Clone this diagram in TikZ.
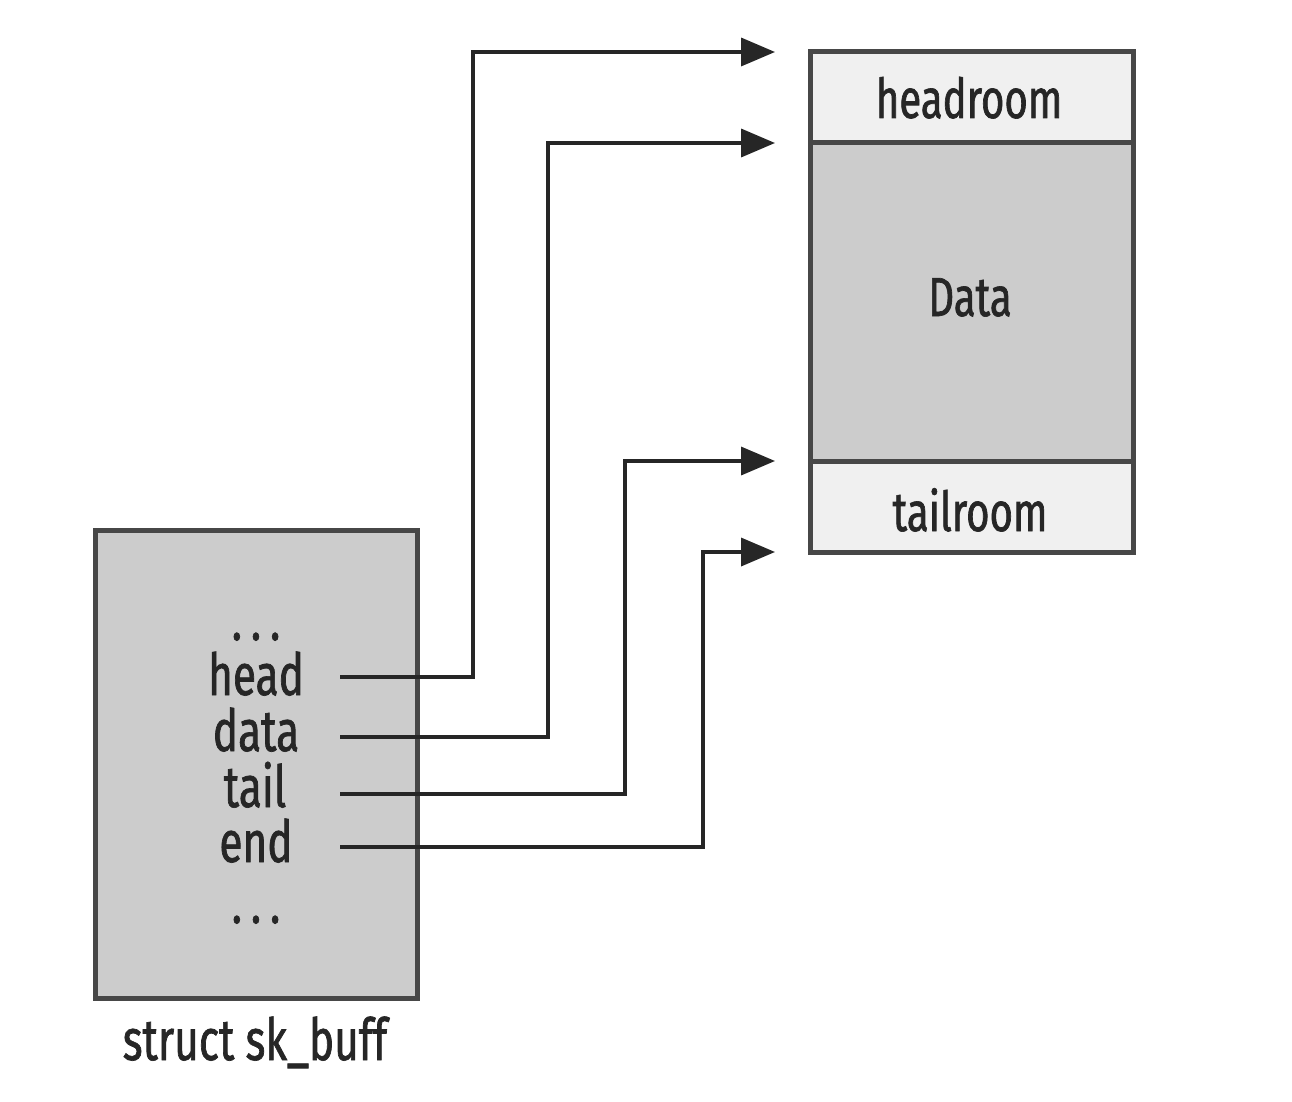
\documentclass[tikz,border=0pt]{standalone}
\usepackage{fontspec}
\setmainfont[FakeStretch=0.73,FakeBold=1.2]{Fira Sans}
\usetikzlibrary{arrows.meta}
\definecolor{boxline}{HTML}{474747}
\definecolor{boxfill}{HTML}{CCCCCC}
\definecolor{roomfill}{HTML}{F0F0F0}
\begin{document}
\begin{tikzpicture}[x=1pt,y=-1pt,
  memblock/.style={draw=boxline,line width=5pt,minimum width=323pt,inner sep=0pt,outer sep=0pt},
  lbl/.style={font=\fontsize{55}{60}\selectfont,text=black!85,anchor=base,inner sep=0pt},
  fld/.style={font=\fontsize{58}{60}\selectfont,text=black!85,anchor=base,inner sep=0pt},
  ptr/.style={line width=3.6pt,draw=black!85,-{Triangle[length=34pt,width=28pt]}}]
\useasboundingbox (0,0) rectangle (1292,1102);
% sk_buff structure
\node[memblock,fill=boxfill,minimum height=468pt,minimum width=322pt,anchor=north west] (skb) at (95,530) {};
\node[fld] (dots1) at (256,640) {.\kern9pt.\kern9pt.};
\node[fld] (fhead) at (256,695) {head};
\node[fld] (fdata) at (256,751) {data};
\node[fld] (ftail) at (255,807) {tail};
\node[fld] (fend) at (256,862) {end};
\node[fld] (dots2) at (256,923) {.\kern9pt.\kern9pt.};
\node[fld] (cap) at (255,1060) {struct sk\_buff};
% data buffer
\node[memblock,fill=roomfill,minimum height=91pt,anchor=north west] (hr) at (810,52) {};
\node[memblock,fill=boxfill,minimum height=318pt,anchor=north west] (dt) at (810,143) {};
\node[memblock,fill=roomfill,minimum height=91pt,anchor=north west] (tr) at (810,461) {};
\node[lbl] (thr) at (969,118) {headroom};
\node[lbl] (tdt) at (970,316) {Data};
\node[lbl] (ttr) at (970,531) {tailroom};
% pointer start / end points
\coordinate (hs) at (340,677);
\coordinate (ds) at (340,737);
\coordinate (ts) at (340,794);
\coordinate (es) at (340,847);
\coordinate (he) at (775,52);
\coordinate (de) at (775,143);
\coordinate (te) at (775,461);
\coordinate (ee) at (775,552);
\draw[ptr] (hs) -- ++(133,0) |- (he);
\draw[ptr] (ds) -- ++(208,0) |- (de);
\draw[ptr] (ts) -- ++(285,0) |- (te);
\draw[ptr] (es) -- ++(363,0) |- (ee);
\end{tikzpicture}
\end{document}
